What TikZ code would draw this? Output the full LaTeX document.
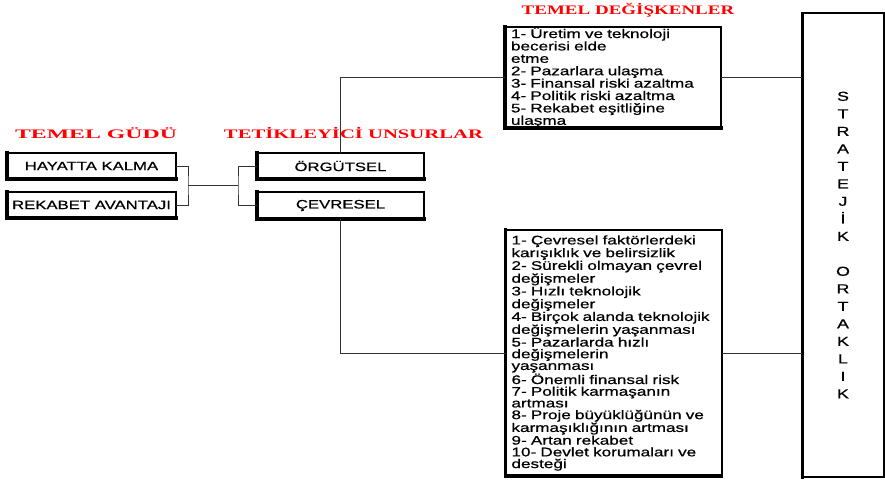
\documentclass[tikz,border=0pt]{standalone}
\usepackage{fontspec}
\usepackage{graphicx}
\setmainfont{Liberation Sans}
\newfontfamily\boxfont[FakeStretch=1.37,FakeBold=0.7]{Liberation Sans}
\newfontfamily\headfont{Liberation Serif}

\begin{document}
\begin{tikzpicture}[x=1pt,y=-1pt,
  framed/.style={draw, line width=2pt, outer sep=0pt, inner sep=0pt, text=black,
    append after command={
      (\tikzlastnode.north west) edge[line width=3.2pt, line cap=rect] (\tikzlastnode.south west)
      (\tikzlastnode.south west) edge[line width=3.2pt, line cap=rect] (\tikzlastnode.south east)}},
  labelbox/.style={framed, minimum width=169pt, minimum height=26pt,
    font=\boxfont\fontsize{12.2}{14}\selectfont},
  listbox/.style={framed, minimum width=216pt, text width=204pt, inner xsep=6pt,
    align=left},
  head/.style={inner sep=0pt, text=red, font=\headfont\bfseries\fontsize{13}{13}\selectfont},
  conn/.style={line width=1pt, draw=black!80}
]
\useasboundingbox (0,0) rectangle (885,482);

% headings
\node[head] (hgudu) at (96,133) {\scalebox{1.83}[1]{TEMEL GÜDÜ}};
\node[head] (htetik) at (353.5,133) {\scalebox{1.59}[1]{TETİKLEYİCİ UNSURLAR}};
\node[head] (hdegis) at (628,10) {\scalebox{1.46}[1]{TEMEL DEĞİŞKENLER}};

% basic motives
\node[labelbox] (hk) at (91.5,166) {HAYATTA KALMA};
\node[labelbox] (ra) at (91.5,205) {REKABET AVANTAJI};

% triggering factors
\node[labelbox, minimum width=167pt] (org) at (340.5,166) {ÖRGÜTSEL};
\node[labelbox, minimum width=167pt, minimum height=27pt] (cev) at (340.5,205.5) {ÇEVRESEL};

% key variables
\node[listbox, minimum height=101pt, font=\boxfont\fontsize{12.5}{12.4}\selectfont] (tdv) at (613,77.5) {%
1- Üretim ve teknoloji\\
becerisi elde\\
etme\\
2- Pazarlara ulaşma\\
3- Finansal riski azaltma\\
4- Politik riski azaltma\\
5- Rekabet eşitliğine\\
ulaşma};

\node[listbox, minimum height=246pt, font=\boxfont\fontsize{12.5}{11.7}\selectfont] (cdv) at (613.5,353) {%
1- Çevresel faktörlerdeki\\
karışıklık ve belirsizlik\\
2- Sürekli olmayan çevrel\\
değişmeler\\
3- Hızlı teknolojik\\
değişmeler\\
4- Birçok alanda teknolojik\\
değişmelerin yaşanması\\
5- Pazarlarda hızlı\\
değişmelerin\\
yaşanması\\
6- Önemli finansal risk\\
7- Politik karmaşanın\\
artması\\
8- Proje büyüklüğünün ve\\
karmaşıklığının artması\\
9- Artan rekabet\\
10- Devlet korumaları ve\\
desteği};

% strategic partnership
\node[draw, line width=1.2pt, outer sep=0pt, inner sep=0pt, minimum width=82pt,
  minimum height=464pt, align=center, text=black,
  font=\boxfont\fontsize{13}{17.5}\selectfont,
  append after command={
    (\tikzlastnode.north west) edge[line width=3pt, line cap=rect] (\tikzlastnode.south west)
    (\tikzlastnode.south west) edge[line width=2.4pt, line cap=rect] (\tikzlastnode.south east)}]
  (sto) at (843,245) {S\\T\\R\\A\\T\\E\\J\\İ\\K\\[17.5pt]O\\R\\T\\A\\K\\L\\I\\K};

% connectors
\coordinate (j1) at (188,185);
\coordinate (j2) at (238,185);
\draw[conn] (hk.east) -| (j1) |- (ra.east);
\draw[conn] (j1) -- (j2);
\draw[conn] (org.west) -| (j2) |- (cev.west);
\draw[conn] (org.north) |- (tdv.west);
\draw[conn] (cev.south) |- (cdv.west);
\draw[conn] (tdv.east) -- (tdv.east -| sto.west);
\draw[conn] (cdv.east) -- (cdv.east -| sto.west);
\end{tikzpicture}
\end{document}
